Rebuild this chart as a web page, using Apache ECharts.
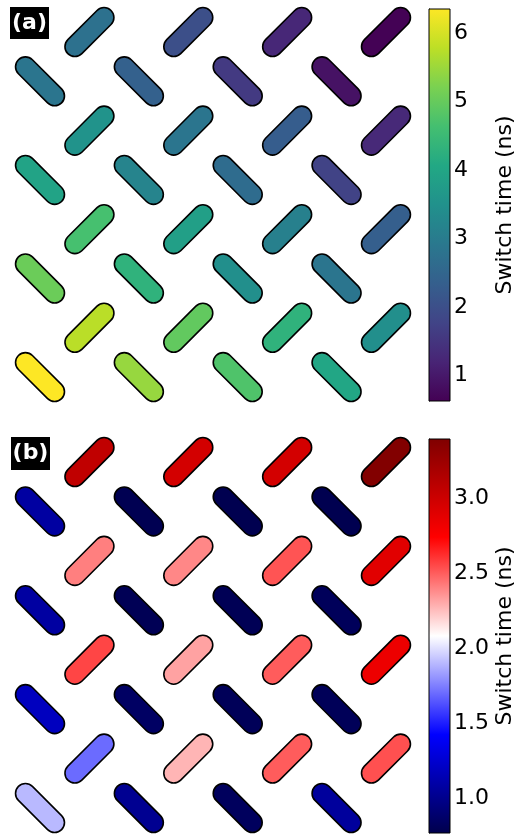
<!DOCTYPE html>
<html>
<head>
<meta charset="utf-8">
<script src="https://cdn.jsdelivr.net/npm/echarts@6/dist/echarts.min.js"></script>
<style>
html,body{margin:0;padding:0;background:#fff;}
#chart{width:524px;height:836px;}
</style>
</head>
<body>
<div id="chart"></div>
<script>
// ---- data (switch time in ns), rows top to bottom, 4 magnets per row ----
var switchA = [
  [2.75, 2.0, 1.25, 0.65],
  [2.85, 2.4, 1.6, 0.9],
  [3.55, 2.85, 2.3, 1.3],
  [3.95, 3.2, 2.65, 1.75],
  [4.65, 3.85, 3.1, 2.35],
  [5.05, 4.3, 3.45, 2.85],
  [5.75, 4.95, 4.3, 3.45],
  [6.35, 5.45, 4.75, 4.0]
];
var switchB = [
  [3.06, 2.96, 2.96, 3.38],
  [1.08, 0.79, 0.78, 0.78],
  [2.41, 2.39, 2.52, 2.89],
  [1.08, 0.80, 0.80, 0.82],
  [2.56, 2.32, 2.50, 2.83],
  [1.19, 0.85, 0.81, 0.81],
  [1.70, 2.27, 2.50, 2.53],
  [1.90, 1.02, 0.83, 1.06]
];
var rangeA = [0.63, 6.35];
var rangeB = [0.767, 3.393];
var ticksA = [1, 2, 3, 4, 5, 6];
var ticksB = [1.0, 1.5, 2.0, 2.5, 3.0];
var panelLabels = ['(a)', '(b)'];
var cbarTitle = 'Switch time (ns)';

// colormaps
var viridis = ['#440154','#482475','#414487','#355f8d','#2a788e','#21918c','#22a884','#44bf70','#7ad151','#bddf26','#fde725'];
var seismic = ['#00004c','#0000ff','#ffffff','#ff0000','#7f0000'];

function toItems(rows) {
  var out = [];
  rows.forEach(function (row, r) {
    row.forEach(function (v, c) {
      var slash = (r % 2 === 0);
      out.push([2 * c + (slash ? 1 : 0), r, v, slash ? 1 : -1]);
    });
  });
  return out;
}

function renderPill(params, api) {
  var p = api.coord([api.value(0), api.value(1)]);
  var u = api.size([1, 1]);
  var L = 1.235 * u[0], W = 0.40 * u[0];
  return {
    type: 'rect',
    x: p[0], y: p[1],
    rotation: api.value(3) * Math.PI / 4,
    shape: { x: -L / 2, y: -W / 2, width: L, height: W, r: W / 2 },
    style: { fill: api.visual('color'), stroke: '#000', lineWidth: 1.6 }
  };
}

function makeCbar(colors) {
  return function (params, api) {
    var p0 = api.coord([0, api.value(1)]);
    var p1 = api.coord([1, api.value(0)]);
    var stops = colors.map(function (c, i) {
      return { offset: 1 - i / (colors.length - 1), color: c };
    });
    return {
      type: 'rect',
      shape: { x: p0[0], y: p0[1], width: p1[0] - p0[0], height: p1[1] - p0[1] },
      style: {
        fill: new echarts.graphic.LinearGradient(0, 0, 0, 1, stops.reverse()),
        stroke: '#000', lineWidth: 1
      }
    };
  };
}

var font = 'DejaVu Sans';
function pillX(i) { return { gridIndex: i, type: 'value', min: -0.5, max: 7.5, show: false }; }
function pillY(i) { return { gridIndex: i, type: 'value', min: -0.5, max: 7.5, inverse: true, show: false }; }
function cbarY(i, range, ticks, fmt) {
  return {
    gridIndex: i, type: 'value', position: 'right', min: range[0], max: range[1],
    axisLine: { show: true, lineStyle: { color: '#000', width: 1 } },
    axisTick: { show: true, length: 5, lineStyle: { color: '#000', width: 1 }, customValues: ticks },
    axisLabel: { show: true, customValues: ticks, color: '#000', fontSize: 22, fontFamily: font, margin: 4, formatter: fmt },
    splitLine: { show: false },
    name: cbarTitle, nameLocation: 'middle', nameRotate: 90, nameGap: 44,
    nameTextStyle: { color: '#000', fontSize: 22, fontFamily: font }
  };
}

var chart = echarts.init(document.getElementById('chart'), null, { renderer: 'canvas' });
chart.setOption({
  animation: false,
  backgroundColor: '#fff',
  grid: [
    { left: 15.3, top: 7.4, width: 395.4, height: 394.3 },
    { left: 15.3, top: 437.3, width: 395.4, height: 395.4 },
    { left: 429, top: 9, width: 21, height: 392 },
    { left: 429, top: 439, width: 21, height: 394 }
  ],
  xAxis: [pillX(0), pillX(1),
    { gridIndex: 2, type: 'value', min: 0, max: 1, show: false },
    { gridIndex: 3, type: 'value', min: 0, max: 1, show: false }],
  yAxis: [pillY(0), pillY(1),
    cbarY(2, rangeA, ticksA, function (v) { return String(Math.round(v)); }),
    cbarY(3, rangeB, ticksB, function (v) { return v.toFixed(1); })],
  visualMap: [
    { type: 'continuous', show: false, seriesIndex: 0, dimension: 2, min: rangeA[0], max: rangeA[1], inRange: { color: viridis } },
    { type: 'continuous', show: false, seriesIndex: 1, dimension: 2, min: rangeB[0], max: rangeB[1], inRange: { color: seismic } }
  ],
  series: [
    { type: 'custom', xAxisIndex: 0, yAxisIndex: 0, data: toItems(switchA), renderItem: renderPill, silent: true },
    { type: 'custom', xAxisIndex: 1, yAxisIndex: 1, data: toItems(switchB), renderItem: renderPill, silent: true },
    { type: 'custom', xAxisIndex: 2, yAxisIndex: 2, data: [[rangeA[0], rangeA[1]]], renderItem: makeCbar(viridis), silent: true },
    { type: 'custom', xAxisIndex: 3, yAxisIndex: 3, data: [[rangeB[0], rangeB[1]]], renderItem: makeCbar(seismic), silent: true }
  ],
  graphic: [
    { type: 'rect', left: 10, top: 7, shape: { width: 39, height: 32 }, style: { fill: '#000' }, z: 100 },
    { type: 'text', x: 29.5, y: 23, style: { text: panelLabels[0], fill: '#fff', font: 'bold 22px "DejaVu Sans"', align: 'center', verticalAlign: 'middle' }, z: 101 },
    { type: 'rect', left: 11, top: 437, shape: { width: 39, height: 33 }, style: { fill: '#000' }, z: 100 },
    { type: 'text', x: 30.5, y: 453.5, style: { text: panelLabels[1], fill: '#fff', font: 'bold 22px "DejaVu Sans"', align: 'center', verticalAlign: 'middle' }, z: 101 }
  ]
});
</script>
</body>
</html>
